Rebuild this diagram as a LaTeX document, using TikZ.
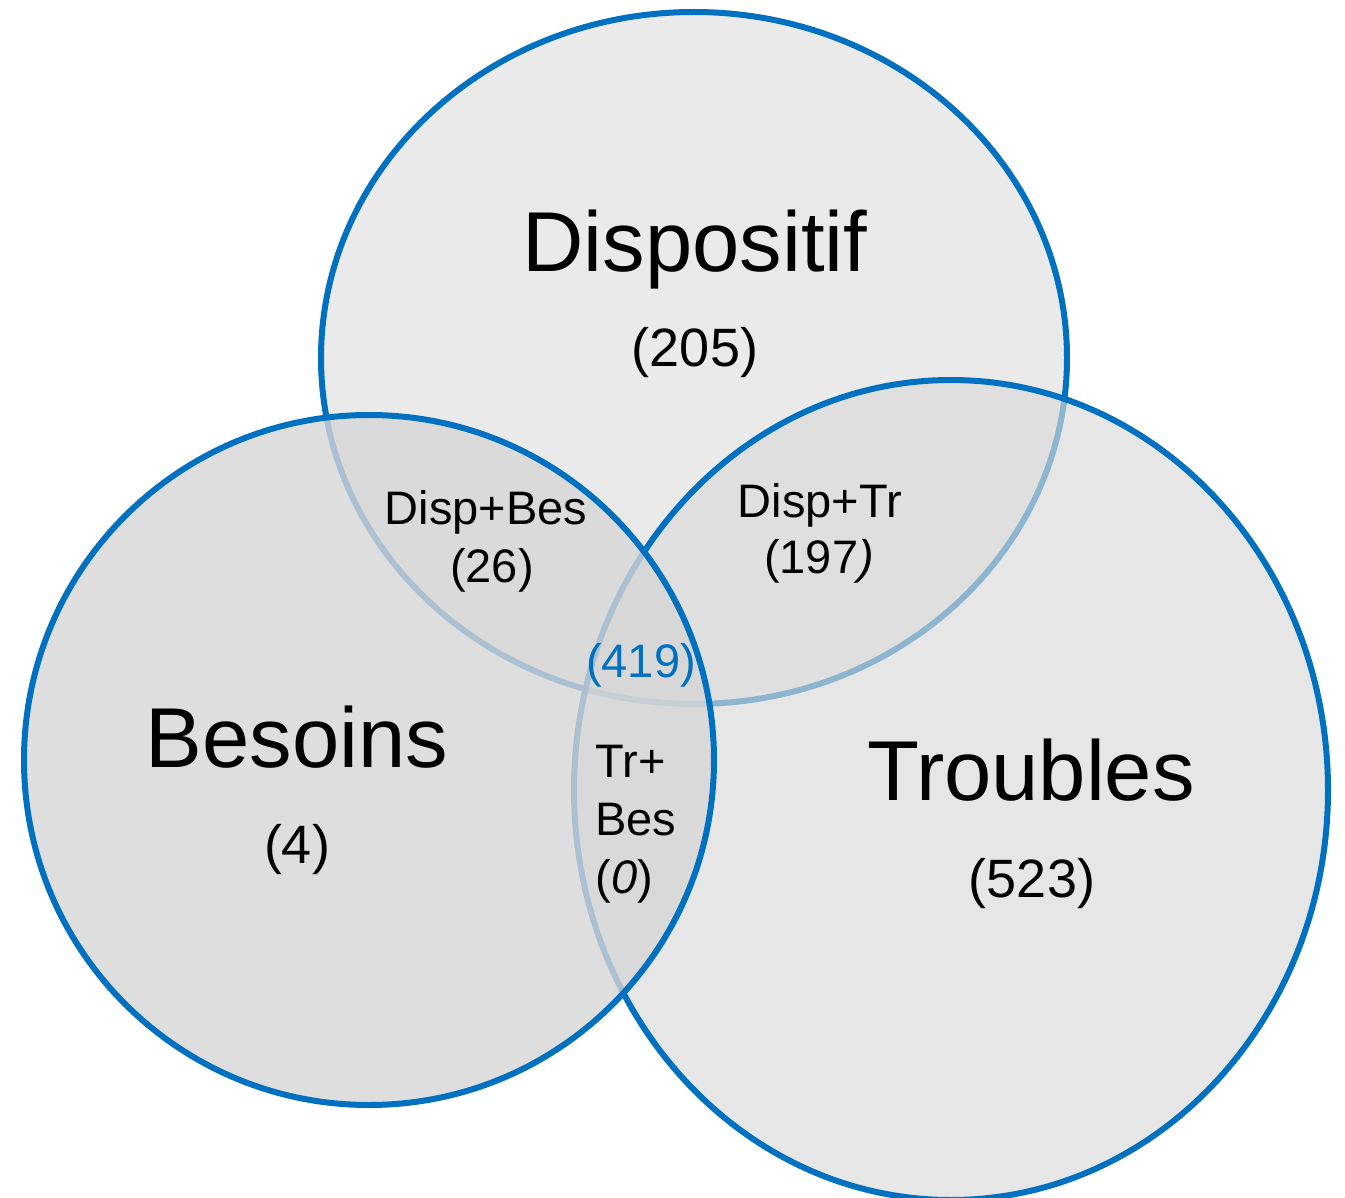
\documentclass[tikz,border=0pt]{standalone}
\usepackage{fontspec}
\setmainfont{Liberation Sans}
\definecolor{vblue}{HTML}{0070C0}
\definecolor{gD}{RGB}{224,224,224}
\definecolor{gT}{RGB}{218,218,218}
\definecolor{gB}{RGB}{214,214,214}
\tikzset{
  setshape/.style={draw=vblue, line width=3pt},
  big/.style={font=\fontsize{42.5}{48}\selectfont, anchor=base, inner sep=0pt},
  num/.style={font=\fontsize{27}{32}\selectfont, anchor=base, inner sep=0pt},
  small/.style={font=\fontsize{23.5}{28}\selectfont, anchor=base, inner sep=0pt},
}
\begin{document}
\begin{tikzpicture}[x=0.5pt,y=-0.5pt]
\useasboundingbox (0,0) rectangle (1345,1198);
\fill[white] (0,0) rectangle (1345,1198);
% Dispositif
\path[setshape, fill=gD, fill opacity=0.65] (694,358) ellipse [x radius=373, y radius=346];
% Troubles
\path[setshape, fill=gT, fill opacity=0.65] (951,790) ellipse [x radius=377, y radius=410];
% Besoins
\path[setshape, fill=gB, fill opacity=0.8] (369,760) ellipse [x radius=345, y radius=345];

\node[big] (dT) at (695,272) {Dispositif};
\node[num] (dN) at (695,367) {(205)};
\node[big] (bT) at (297,767) {Besoins};
\node[num] (bN) at (297,863) {(4)};
\node[big] (tT) at (1031,800) {Troubles};
\node[num] (tN) at (1032,897) {(523)};
\node[small] (dbT) at (486,524) {Disp+Bes};
\node[small] (dbN) at (492,582) {(26)};
\node[small] (dtT) at (820,517) {Disp+Tr};
\node[small] (dtN) at (819,573) {(197\textit{)}};
\node[small, text=vblue] (all) at (641,677) {(419)};
\node[small, anchor=base west] (tb1) at (595,777) {Tr+};
\node[small, anchor=base west] (tb2) at (595,835) {Bes};
\node[small, anchor=base west] (tb3) at (595,893) {(\textit{0})};
\end{tikzpicture}
\end{document}
